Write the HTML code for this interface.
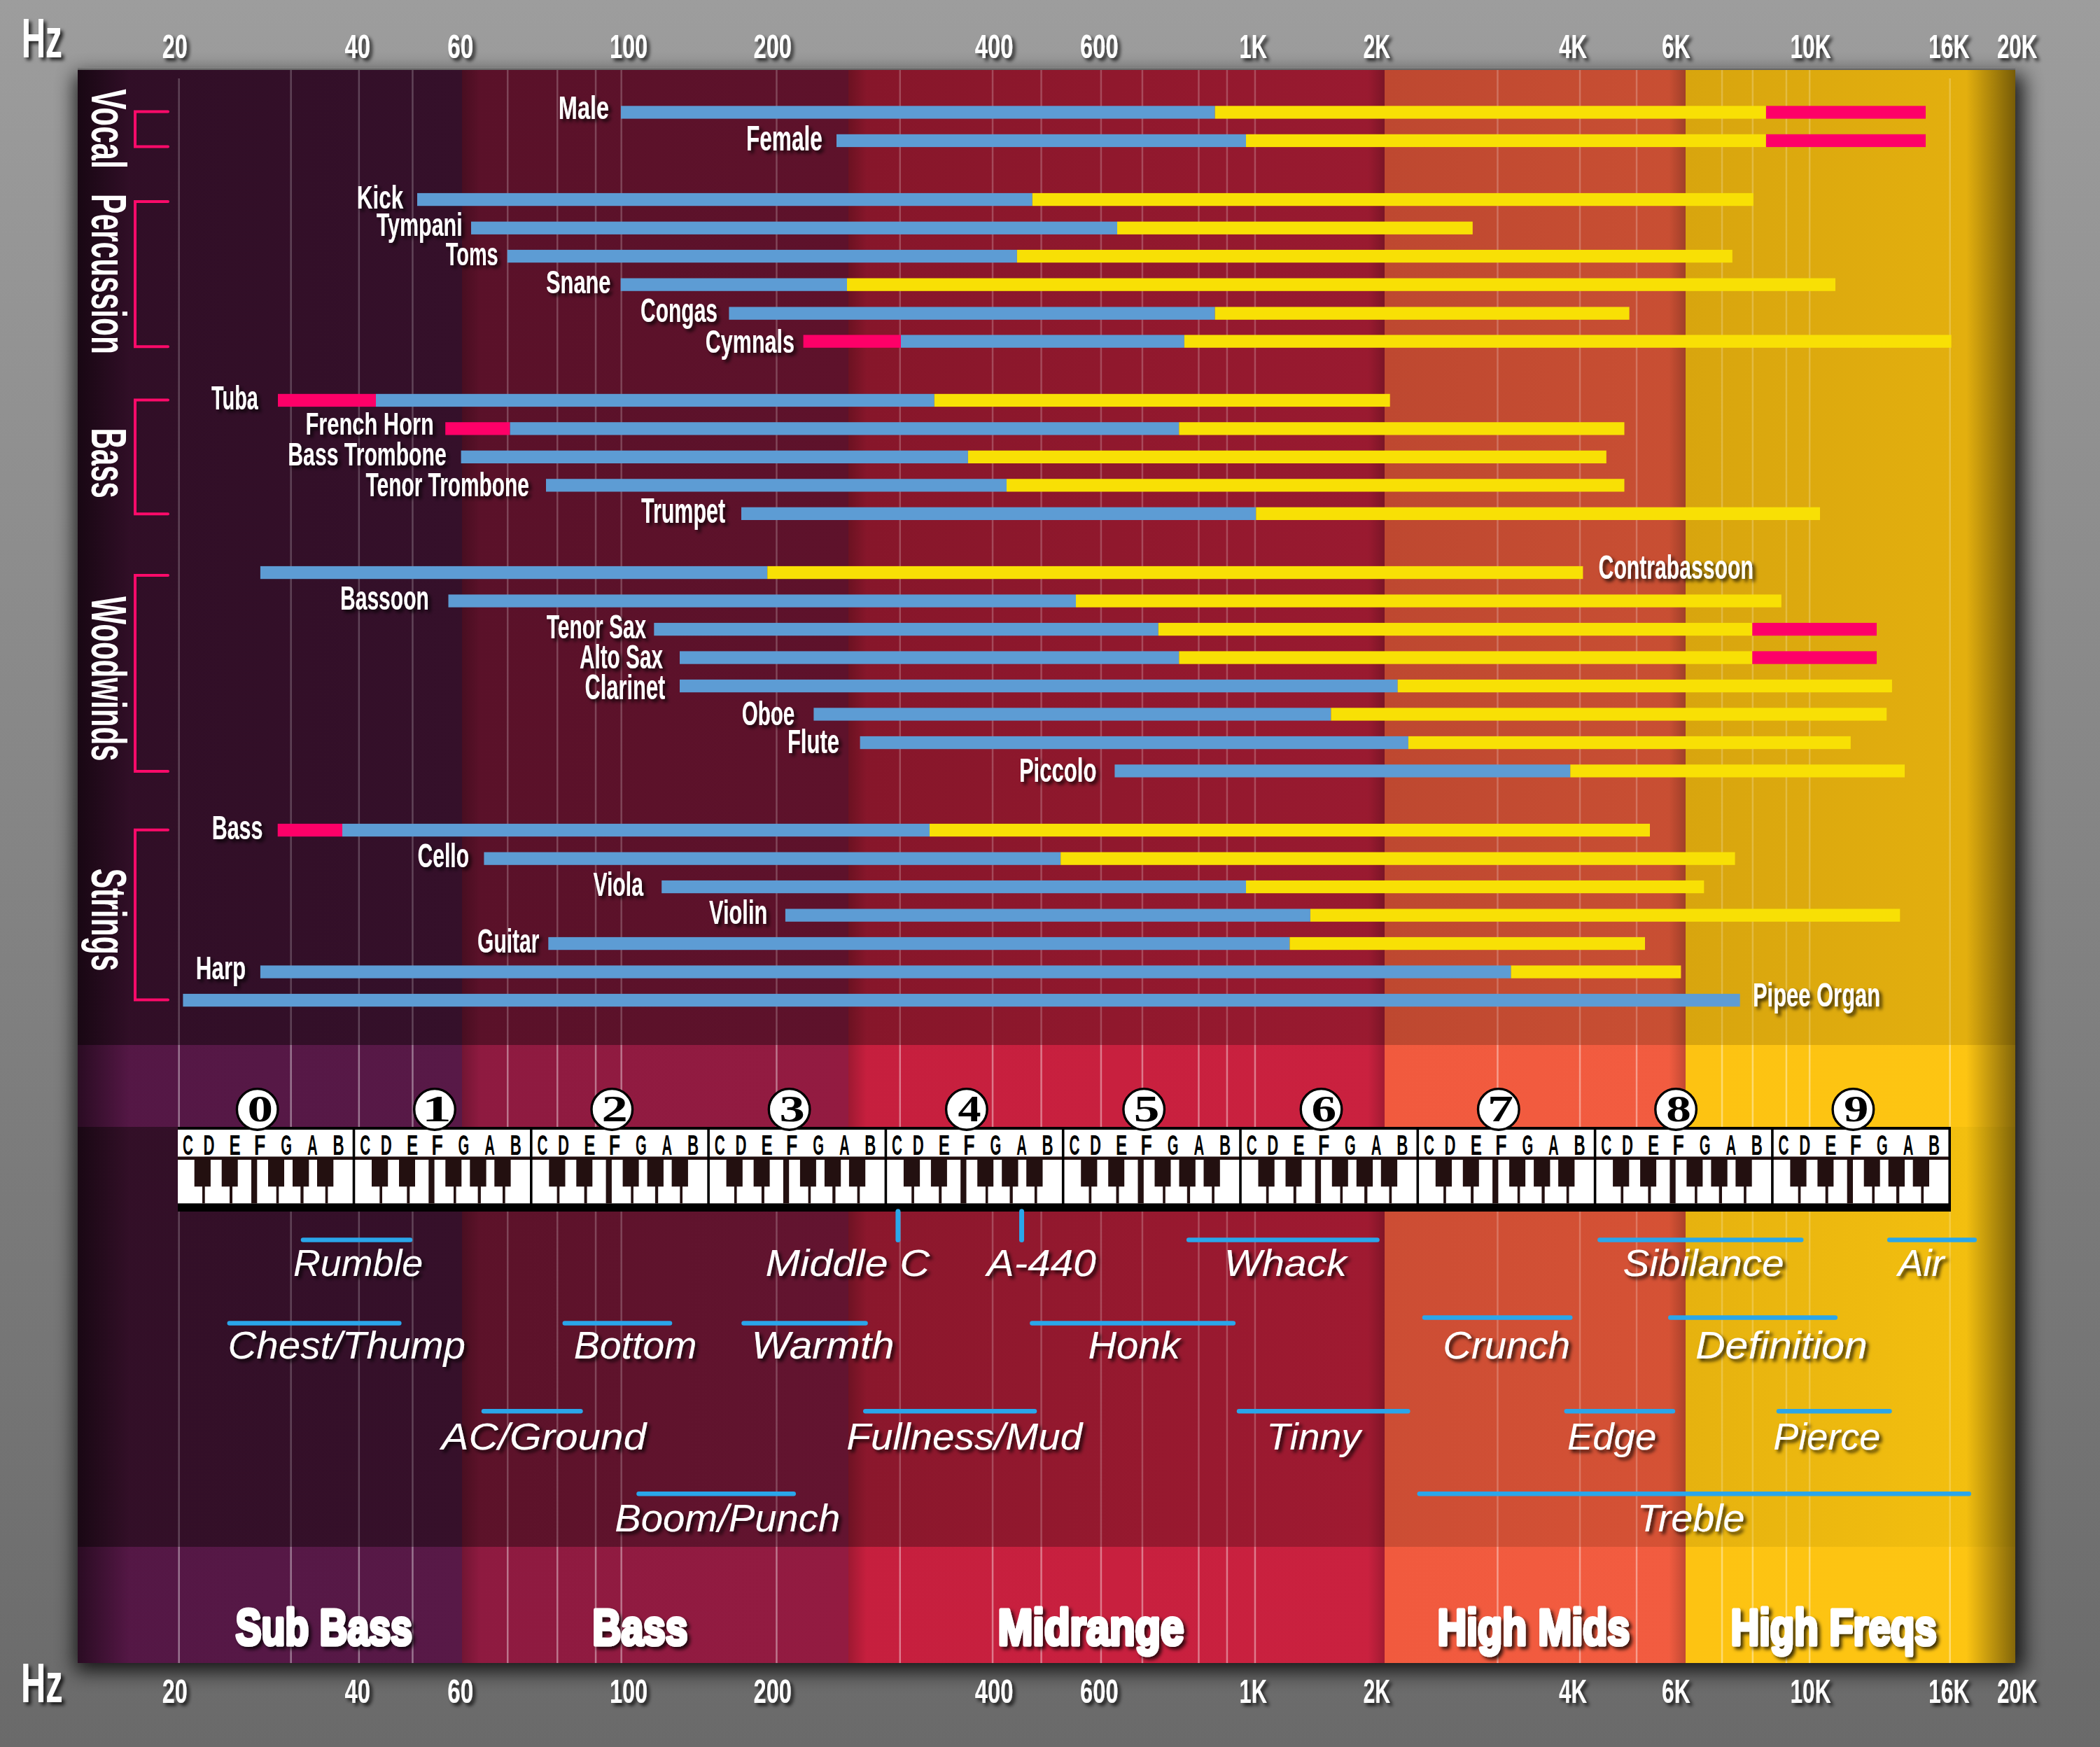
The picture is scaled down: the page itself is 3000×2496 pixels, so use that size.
<!DOCTYPE html><html><head><meta charset="utf-8"><style>html,body{margin:0;padding:0;background:#888;}svg{display:block}</style></head><body>
<svg width="3000" height="2496" viewBox="0 0 3000 2496">
<defs>
<linearGradient id="bg" x1="0" y1="0" x2="0" y2="1"><stop offset="0" stop-color="#9d9d9d"/><stop offset="1" stop-color="#6a6a6a"/></linearGradient>
<filter id="ts" x="-10%" y="-30%" width="130%" height="170%"><feGaussianBlur in="SourceAlpha" stdDeviation="2.4"/><feOffset dx="3.5" dy="3.5" result="b"/><feFlood flood-color="#000" flood-opacity="0.75"/><feComposite in2="b" operator="in"/><feMerge><feMergeNode/><feMergeNode in="SourceGraphic"/></feMerge></filter>
<filter id="ps" x="-5%" y="-5%" width="110%" height="110%"><feGaussianBlur stdDeviation="14"/></filter>
<linearGradient id="lg" x1="0" y1="0" x2="1" y2="0"><stop offset="0" stop-color="#000" stop-opacity="0.5"/><stop offset="1" stop-color="#000" stop-opacity="0"/></linearGradient>
<linearGradient id="rg" x1="0" y1="0" x2="1" y2="0"><stop offset="0" stop-color="#000" stop-opacity="0"/><stop offset="1" stop-color="#000" stop-opacity="0.48"/></linearGradient>
<linearGradient id="bsh" x1="0" y1="0" x2="1" y2="0"><stop offset="0" stop-color="#000" stop-opacity="0.2"/><stop offset="1" stop-color="#000" stop-opacity="0"/></linearGradient>
<linearGradient id="bshl" x1="0" y1="0" x2="1" y2="0"><stop offset="0" stop-color="#000" stop-opacity="0"/><stop offset="1" stop-color="#000" stop-opacity="0.2"/></linearGradient>
<filter id="ts2" x="-10%" y="-30%" width="130%" height="170%"><feGaussianBlur in="SourceAlpha" stdDeviation="2.4"/><feOffset dx="3.5" dy="-3.5" result="b"/><feFlood flood-color="#000" flood-opacity="0.75"/><feComposite in2="b" operator="in"/><feMerge><feMergeNode/><feMergeNode in="SourceGraphic"/></feMerge></filter></defs>
<rect x="0" y="0" width="3000" height="2496" fill="url(#bg)"/>
<rect x="107" y="106" width="2784" height="2282" fill="#000" opacity="0.8" filter="url(#ps)"/>
<linearGradient id="tstrip" x1="0" y1="0" x2="0" y2="1"><stop offset="0" stop-color="#8a8a8a"/><stop offset="1" stop-color="#555"/></linearGradient>
<rect x="111" y="96" width="2768" height="4.5" fill="url(#tstrip)"/>
<linearGradient id="g1" x1="0" y1="0" x2="1" y2="0"><stop offset="0" stop-color="#300e26"/><stop offset="1" stop-color="#35102a"/></linearGradient>
<rect x="111" y="100" width="549" height="1393" fill="url(#g1)"/>
<linearGradient id="g2" x1="0" y1="0" x2="1" y2="0"><stop offset="0" stop-color="#5a1129"/><stop offset="1" stop-color="#5e122b"/></linearGradient>
<rect x="660" y="100" width="552" height="1393" fill="url(#g2)"/>
<linearGradient id="g3" x1="0" y1="0" x2="1" y2="0"><stop offset="0" stop-color="#86162a"/><stop offset="1" stop-color="#9a1a30"/></linearGradient>
<rect x="1212" y="100" width="766" height="1393" fill="url(#g3)"/>
<linearGradient id="g4" x1="0" y1="0" x2="1" y2="0"><stop offset="0" stop-color="#be4830"/><stop offset="1" stop-color="#c94f33"/></linearGradient>
<rect x="1978" y="100" width="430" height="1393" fill="url(#g4)"/>
<linearGradient id="g5" x1="0" y1="0" x2="1" y2="0"><stop offset="0" stop-color="#d8a50e"/><stop offset="1" stop-color="#e5b10e"/></linearGradient>
<rect x="2408" y="100" width="471" height="1393" fill="url(#g5)"/>
<linearGradient id="g6" x1="0" y1="0" x2="1" y2="0"><stop offset="0" stop-color="#541745"/><stop offset="1" stop-color="#581947"/></linearGradient>
<rect x="111" y="1493" width="549" height="117" fill="url(#g6)"/>
<linearGradient id="g7" x1="0" y1="0" x2="1" y2="0"><stop offset="0" stop-color="#8e1a40"/><stop offset="1" stop-color="#931b41"/></linearGradient>
<rect x="660" y="1493" width="552" height="117" fill="url(#g7)"/>
<linearGradient id="g8" x1="0" y1="0" x2="1" y2="0"><stop offset="0" stop-color="#c61f3e"/><stop offset="1" stop-color="#ca213f"/></linearGradient>
<rect x="1212" y="1493" width="766" height="117" fill="url(#g8)"/>
<linearGradient id="g9" x1="0" y1="0" x2="1" y2="0"><stop offset="0" stop-color="#f15a3e"/><stop offset="1" stop-color="#f25c40"/></linearGradient>
<rect x="1978" y="1493" width="430" height="117" fill="url(#g9)"/>
<linearGradient id="g10" x1="0" y1="0" x2="1" y2="0"><stop offset="0" stop-color="#fdc312"/><stop offset="1" stop-color="#fdc512"/></linearGradient>
<rect x="2408" y="1493" width="471" height="117" fill="url(#g10)"/>
<linearGradient id="g11" x1="0" y1="0" x2="1" y2="0"><stop offset="0" stop-color="#320f27"/><stop offset="1" stop-color="#36102a"/></linearGradient>
<rect x="111" y="1610" width="549" height="600" fill="url(#g11)"/>
<linearGradient id="g12" x1="0" y1="0" x2="1" y2="0"><stop offset="0" stop-color="#5c1229"/><stop offset="1" stop-color="#631430"/></linearGradient>
<rect x="660" y="1610" width="552" height="600" fill="url(#g12)"/>
<linearGradient id="g13" x1="0" y1="0" x2="1" y2="0"><stop offset="0" stop-color="#8a172c"/><stop offset="1" stop-color="#a01a31"/></linearGradient>
<rect x="1212" y="1610" width="766" height="600" fill="url(#g13)"/>
<linearGradient id="g14" x1="0" y1="0" x2="1" y2="0"><stop offset="0" stop-color="#cc4d34"/><stop offset="1" stop-color="#d65235"/></linearGradient>
<rect x="1978" y="1610" width="430" height="600" fill="url(#g14)"/>
<linearGradient id="g15" x1="0" y1="0" x2="1" y2="0"><stop offset="0" stop-color="#e6b20f"/><stop offset="1" stop-color="#f5c10f"/></linearGradient>
<rect x="2408" y="1610" width="471" height="600" fill="url(#g15)"/>
<linearGradient id="g16" x1="0" y1="0" x2="1" y2="0"><stop offset="0" stop-color="#541745"/><stop offset="1" stop-color="#581947"/></linearGradient>
<rect x="111" y="2210" width="549" height="166" fill="url(#g16)"/>
<linearGradient id="g17" x1="0" y1="0" x2="1" y2="0"><stop offset="0" stop-color="#8e1a40"/><stop offset="1" stop-color="#931b41"/></linearGradient>
<rect x="660" y="2210" width="552" height="166" fill="url(#g17)"/>
<linearGradient id="g18" x1="0" y1="0" x2="1" y2="0"><stop offset="0" stop-color="#c61f3e"/><stop offset="1" stop-color="#ca213f"/></linearGradient>
<rect x="1212" y="2210" width="766" height="166" fill="url(#g18)"/>
<linearGradient id="g19" x1="0" y1="0" x2="1" y2="0"><stop offset="0" stop-color="#f15a3e"/><stop offset="1" stop-color="#f25c40"/></linearGradient>
<rect x="1978" y="2210" width="430" height="166" fill="url(#g19)"/>
<linearGradient id="g20" x1="0" y1="0" x2="1" y2="0"><stop offset="0" stop-color="#fdc312"/><stop offset="1" stop-color="#fdc512"/></linearGradient>
<rect x="2408" y="2210" width="471" height="166" fill="url(#g20)"/>
<rect x="660" y="100" width="26" height="2276" fill="url(#bsh)"/>
<rect x="1212" y="100" width="26" height="2276" fill="url(#bsh)"/>
<rect x="1954" y="100" width="24" height="2276" fill="url(#bshl)"/>
<rect x="2384" y="100" width="24" height="2276" fill="url(#bshl)"/>
<rect x="111" y="100" width="75" height="2276" fill="url(#lg)"/>
<rect x="2809" y="100" width="70" height="2276" fill="url(#rg)"/>
<rect x="414.4" y="100" width="2.5" height="1393" fill="#fff" opacity="0.22"/>
<rect x="511.6" y="100" width="2.5" height="1393" fill="#fff" opacity="0.22"/>
<rect x="588.2" y="100" width="2.5" height="1393" fill="#fff" opacity="0.22"/>
<rect x="724.0" y="100" width="2.5" height="1393" fill="#fff" opacity="0.22"/>
<rect x="795.0" y="100" width="2.5" height="1393" fill="#fff" opacity="0.22"/>
<rect x="849.8" y="100" width="2.5" height="1393" fill="#fff" opacity="0.22"/>
<rect x="886.4" y="100" width="2.5" height="1393" fill="#fff" opacity="0.22"/>
<rect x="1108.2" y="100" width="2.5" height="1393" fill="#fff" opacity="0.22"/>
<rect x="1284.5" y="100" width="2.5" height="1393" fill="#fff" opacity="0.22"/>
<rect x="1416.8" y="100" width="2.5" height="1393" fill="#fff" opacity="0.22"/>
<rect x="1486.3" y="100" width="2.5" height="1393" fill="#fff" opacity="0.22"/>
<rect x="1571.7" y="100" width="2.5" height="1393" fill="#fff" opacity="0.22"/>
<rect x="1630.7" y="100" width="2.5" height="1393" fill="#fff" opacity="0.22"/>
<rect x="1711.2" y="100" width="2.5" height="1393" fill="#fff" opacity="0.22"/>
<rect x="1751.7" y="100" width="2.5" height="1393" fill="#fff" opacity="0.22"/>
<rect x="1791.7" y="100" width="2.5" height="1393" fill="#fff" opacity="0.22"/>
<rect x="2138.2" y="100" width="2.5" height="1393" fill="#fff" opacity="0.22"/>
<rect x="2255.8" y="100" width="2.5" height="1393" fill="#fff" opacity="0.22"/>
<rect x="2336.8" y="100" width="2.5" height="1393" fill="#fff" opacity="0.22"/>
<rect x="2458.8" y="100" width="2.5" height="1393" fill="#fff" opacity="0.22"/>
<rect x="2502.6" y="100" width="2.5" height="1393" fill="#fff" opacity="0.22"/>
<rect x="2550.7" y="100" width="2.5" height="1393" fill="#fff" opacity="0.22"/>
<rect x="2583.9" y="100" width="2.5" height="1393" fill="#fff" opacity="0.22"/>
<rect x="254.4" y="112" width="2.5" height="1381" fill="#fff" opacity="0.22"/>
<rect x="2784.4" y="112" width="2.5" height="1381" fill="#fff" opacity="0.22"/>
<rect x="414.4" y="1493" width="2.5" height="117" fill="#fff" opacity="0.4"/>
<rect x="511.6" y="1493" width="2.5" height="117" fill="#fff" opacity="0.4"/>
<rect x="588.2" y="1493" width="2.5" height="117" fill="#fff" opacity="0.4"/>
<rect x="724.0" y="1493" width="2.5" height="117" fill="#fff" opacity="0.4"/>
<rect x="795.0" y="1493" width="2.5" height="117" fill="#fff" opacity="0.4"/>
<rect x="849.8" y="1493" width="2.5" height="117" fill="#fff" opacity="0.4"/>
<rect x="886.4" y="1493" width="2.5" height="117" fill="#fff" opacity="0.4"/>
<rect x="1108.2" y="1493" width="2.5" height="117" fill="#fff" opacity="0.4"/>
<rect x="1284.5" y="1493" width="2.5" height="117" fill="#fff" opacity="0.4"/>
<rect x="1416.8" y="1493" width="2.5" height="117" fill="#fff" opacity="0.4"/>
<rect x="1486.3" y="1493" width="2.5" height="117" fill="#fff" opacity="0.4"/>
<rect x="1571.7" y="1493" width="2.5" height="117" fill="#fff" opacity="0.4"/>
<rect x="1630.7" y="1493" width="2.5" height="117" fill="#fff" opacity="0.4"/>
<rect x="1711.2" y="1493" width="2.5" height="117" fill="#fff" opacity="0.4"/>
<rect x="1751.7" y="1493" width="2.5" height="117" fill="#fff" opacity="0.4"/>
<rect x="1791.7" y="1493" width="2.5" height="117" fill="#fff" opacity="0.4"/>
<rect x="2138.2" y="1493" width="2.5" height="117" fill="#fff" opacity="0.4"/>
<rect x="2255.8" y="1493" width="2.5" height="117" fill="#fff" opacity="0.4"/>
<rect x="2336.8" y="1493" width="2.5" height="117" fill="#fff" opacity="0.4"/>
<rect x="2458.8" y="1493" width="2.5" height="117" fill="#fff" opacity="0.4"/>
<rect x="2502.6" y="1493" width="2.5" height="117" fill="#fff" opacity="0.4"/>
<rect x="2550.7" y="1493" width="2.5" height="117" fill="#fff" opacity="0.4"/>
<rect x="2583.9" y="1493" width="2.5" height="117" fill="#fff" opacity="0.4"/>
<rect x="254.4" y="1493" width="2.5" height="117" fill="#fff" opacity="0.4"/>
<rect x="2784.4" y="1493" width="2.5" height="117" fill="#fff" opacity="0.4"/>
<rect x="414.4" y="1610" width="2.5" height="600" fill="#fff" opacity="0.22"/>
<rect x="511.6" y="1610" width="2.5" height="600" fill="#fff" opacity="0.22"/>
<rect x="588.2" y="1610" width="2.5" height="600" fill="#fff" opacity="0.22"/>
<rect x="724.0" y="1610" width="2.5" height="600" fill="#fff" opacity="0.22"/>
<rect x="795.0" y="1610" width="2.5" height="600" fill="#fff" opacity="0.22"/>
<rect x="849.8" y="1610" width="2.5" height="600" fill="#fff" opacity="0.22"/>
<rect x="886.4" y="1610" width="2.5" height="600" fill="#fff" opacity="0.22"/>
<rect x="1108.2" y="1610" width="2.5" height="600" fill="#fff" opacity="0.22"/>
<rect x="1284.5" y="1610" width="2.5" height="600" fill="#fff" opacity="0.22"/>
<rect x="1416.8" y="1610" width="2.5" height="600" fill="#fff" opacity="0.22"/>
<rect x="1486.3" y="1610" width="2.5" height="600" fill="#fff" opacity="0.22"/>
<rect x="1571.7" y="1610" width="2.5" height="600" fill="#fff" opacity="0.22"/>
<rect x="1630.7" y="1610" width="2.5" height="600" fill="#fff" opacity="0.22"/>
<rect x="1711.2" y="1610" width="2.5" height="600" fill="#fff" opacity="0.22"/>
<rect x="1751.7" y="1610" width="2.5" height="600" fill="#fff" opacity="0.22"/>
<rect x="1791.7" y="1610" width="2.5" height="600" fill="#fff" opacity="0.22"/>
<rect x="2138.2" y="1610" width="2.5" height="600" fill="#fff" opacity="0.22"/>
<rect x="2255.8" y="1610" width="2.5" height="600" fill="#fff" opacity="0.22"/>
<rect x="2336.8" y="1610" width="2.5" height="600" fill="#fff" opacity="0.22"/>
<rect x="2458.8" y="1610" width="2.5" height="600" fill="#fff" opacity="0.22"/>
<rect x="2502.6" y="1610" width="2.5" height="600" fill="#fff" opacity="0.22"/>
<rect x="2550.7" y="1610" width="2.5" height="600" fill="#fff" opacity="0.22"/>
<rect x="2583.9" y="1610" width="2.5" height="600" fill="#fff" opacity="0.22"/>
<rect x="254.4" y="1610" width="2.5" height="600" fill="#fff" opacity="0.22"/>
<rect x="2784.4" y="1610" width="2.5" height="600" fill="#fff" opacity="0.22"/>
<rect x="414.4" y="2210" width="2.5" height="166" fill="#fff" opacity="0.4"/>
<rect x="511.6" y="2210" width="2.5" height="166" fill="#fff" opacity="0.4"/>
<rect x="588.2" y="2210" width="2.5" height="166" fill="#fff" opacity="0.4"/>
<rect x="724.0" y="2210" width="2.5" height="166" fill="#fff" opacity="0.4"/>
<rect x="795.0" y="2210" width="2.5" height="166" fill="#fff" opacity="0.4"/>
<rect x="849.8" y="2210" width="2.5" height="166" fill="#fff" opacity="0.4"/>
<rect x="886.4" y="2210" width="2.5" height="166" fill="#fff" opacity="0.4"/>
<rect x="1108.2" y="2210" width="2.5" height="166" fill="#fff" opacity="0.4"/>
<rect x="1284.5" y="2210" width="2.5" height="166" fill="#fff" opacity="0.4"/>
<rect x="1416.8" y="2210" width="2.5" height="166" fill="#fff" opacity="0.4"/>
<rect x="1486.3" y="2210" width="2.5" height="166" fill="#fff" opacity="0.4"/>
<rect x="1571.7" y="2210" width="2.5" height="166" fill="#fff" opacity="0.4"/>
<rect x="1630.7" y="2210" width="2.5" height="166" fill="#fff" opacity="0.4"/>
<rect x="1711.2" y="2210" width="2.5" height="166" fill="#fff" opacity="0.4"/>
<rect x="1751.7" y="2210" width="2.5" height="166" fill="#fff" opacity="0.4"/>
<rect x="1791.7" y="2210" width="2.5" height="166" fill="#fff" opacity="0.4"/>
<rect x="2138.2" y="2210" width="2.5" height="166" fill="#fff" opacity="0.4"/>
<rect x="2255.8" y="2210" width="2.5" height="166" fill="#fff" opacity="0.4"/>
<rect x="2336.8" y="2210" width="2.5" height="166" fill="#fff" opacity="0.4"/>
<rect x="2458.8" y="2210" width="2.5" height="166" fill="#fff" opacity="0.4"/>
<rect x="2502.6" y="2210" width="2.5" height="166" fill="#fff" opacity="0.4"/>
<rect x="2550.7" y="2210" width="2.5" height="166" fill="#fff" opacity="0.4"/>
<rect x="2583.9" y="2210" width="2.5" height="166" fill="#fff" opacity="0.4"/>
<rect x="254.4" y="2210" width="2.5" height="166" fill="#fff" opacity="0.4"/>
<rect x="2784.4" y="2210" width="2.5" height="166" fill="#fff" opacity="0.4"/>
<path d="M240 159.5 H193 V209.5 H240" fill="none" stroke="#ff0a6a" stroke-width="4" stroke-linecap="round"/>
<path d="M240 288 H193 V495.2 H240" fill="none" stroke="#ff0a6a" stroke-width="4" stroke-linecap="round"/>
<path d="M240 571.4 H193 V734.3 H240" fill="none" stroke="#ff0a6a" stroke-width="4" stroke-linecap="round"/>
<path d="M240 822 H193 V1101.9 H240" fill="none" stroke="#ff0a6a" stroke-width="4" stroke-linecap="round"/>
<path d="M240 1185.7 H193 V1428.6 H240" fill="none" stroke="#ff0a6a" stroke-width="4" stroke-linecap="round"/>
<g transform="translate(131,0) rotate(90)"><text x="127.3" y="0.0" font-family="Liberation Sans" font-weight="bold" font-style="normal" font-size="70.55" textLength="113.9" lengthAdjust="spacingAndGlyphs" fill="#fff">Vocal</text></g>
<g transform="translate(131,0) rotate(90)"><text x="277.1" y="0.0" font-family="Liberation Sans" font-weight="bold" font-style="normal" font-size="70.55" textLength="228.8" lengthAdjust="spacingAndGlyphs" fill="#fff">Percussion</text></g>
<g transform="translate(131,0) rotate(90)"><text x="611.6" y="0.0" font-family="Liberation Sans" font-weight="bold" font-style="normal" font-size="70.55" textLength="100.1" lengthAdjust="spacingAndGlyphs" fill="#fff">Bass</text></g>
<g transform="translate(131,0) rotate(90)"><text x="852.3" y="0.0" font-family="Liberation Sans" font-weight="bold" font-style="normal" font-size="70.55" textLength="235.2" lengthAdjust="spacingAndGlyphs" fill="#fff">Woodwinds</text></g>
<g transform="translate(131,0) rotate(90)"><text x="1240.7" y="0.0" font-family="Liberation Sans" font-weight="bold" font-style="normal" font-size="70.55" textLength="146.7" lengthAdjust="spacingAndGlyphs" fill="#fff">Strings</text></g>
<rect x="887.0" y="151.3" width="848.7" height="18.3" fill="#5d9cd4"/><rect x="1735.7" y="151.3" width="787.2" height="18.3" fill="#f8e005"/><rect x="2522.9" y="151.3" width="228.1" height="18.3" fill="#fe0068"/>
<rect x="1195.0" y="191.8" width="585.0" height="18.3" fill="#5d9cd4"/><rect x="1780.0" y="191.8" width="742.9" height="18.3" fill="#f8e005"/><rect x="2522.9" y="191.8" width="228.1" height="18.3" fill="#fe0068"/>
<rect x="596.0" y="275.9" width="878.8" height="18.3" fill="#5d9cd4"/><rect x="1474.8" y="275.9" width="1030.0" height="18.3" fill="#f8e005"/>
<rect x="673.0" y="316.6" width="923.0" height="18.3" fill="#5d9cd4"/><rect x="1596.0" y="316.6" width="507.8" height="18.3" fill="#f8e005"/>
<rect x="724.8" y="356.9" width="728.1" height="18.3" fill="#5d9cd4"/><rect x="1452.9" y="356.9" width="1021.9" height="18.3" fill="#f8e005"/>
<rect x="886.7" y="397.5" width="323.3" height="18.3" fill="#5d9cd4"/><rect x="1210.0" y="397.5" width="1412.0" height="18.3" fill="#f8e005"/>
<rect x="1041.4" y="438.5" width="694.3" height="18.3" fill="#5d9cd4"/><rect x="1735.7" y="438.5" width="591.9" height="18.3" fill="#f8e005"/>
<rect x="1147.6" y="478.5" width="139.4" height="18.3" fill="#fe0068"/><rect x="1287.0" y="478.5" width="404.9" height="18.3" fill="#5d9cd4"/><rect x="1691.9" y="478.5" width="1095.7" height="18.3" fill="#f8e005"/>
<rect x="397.0" y="562.8" width="140.0" height="18.3" fill="#fe0068"/><rect x="537.0" y="562.8" width="797.8" height="18.3" fill="#5d9cd4"/><rect x="1334.8" y="562.8" width="650.9" height="18.3" fill="#f8e005"/>
<rect x="636.2" y="603.2" width="92.4" height="18.3" fill="#fe0068"/><rect x="728.6" y="603.2" width="955.7" height="18.3" fill="#5d9cd4"/><rect x="1684.3" y="603.2" width="636.2" height="18.3" fill="#f8e005"/>
<rect x="658.6" y="643.7" width="724.3" height="18.3" fill="#5d9cd4"/><rect x="1382.9" y="643.7" width="911.9" height="18.3" fill="#f8e005"/>
<rect x="780.0" y="684.2" width="658.0" height="18.3" fill="#5d9cd4"/><rect x="1438.0" y="684.2" width="882.5" height="18.3" fill="#f8e005"/>
<rect x="1059.0" y="724.7" width="735.3" height="18.3" fill="#5d9cd4"/><rect x="1794.3" y="724.7" width="805.7" height="18.3" fill="#f8e005"/>
<rect x="371.9" y="808.9" width="724.3" height="18.3" fill="#5d9cd4"/><rect x="1096.2" y="808.9" width="1165.2" height="18.3" fill="#f8e005"/>
<rect x="640.5" y="849.4" width="896.5" height="18.3" fill="#5d9cd4"/><rect x="1537.0" y="849.4" width="1007.8" height="18.3" fill="#f8e005"/>
<rect x="934.3" y="889.9" width="720.5" height="18.3" fill="#5d9cd4"/><rect x="1654.8" y="889.9" width="848.5" height="18.3" fill="#f8e005"/><rect x="2503.3" y="889.9" width="177.7" height="18.3" fill="#fe0068"/>
<rect x="971.0" y="930.4" width="713.3" height="18.3" fill="#5d9cd4"/><rect x="1684.3" y="930.4" width="819.0" height="18.3" fill="#f8e005"/><rect x="2503.3" y="930.4" width="177.7" height="18.3" fill="#fe0068"/>
<rect x="971.0" y="970.9" width="1025.7" height="18.3" fill="#5d9cd4"/><rect x="1996.7" y="970.9" width="706.2" height="18.3" fill="#f8e005"/>
<rect x="1162.4" y="1011.3" width="739.0" height="18.3" fill="#5d9cd4"/><rect x="1901.4" y="1011.3" width="793.8" height="18.3" fill="#f8e005"/>
<rect x="1228.6" y="1051.9" width="783.3" height="18.3" fill="#5d9cd4"/><rect x="2011.9" y="1051.9" width="631.9" height="18.3" fill="#f8e005"/>
<rect x="1592.4" y="1092.3" width="650.9" height="18.3" fill="#5d9cd4"/><rect x="2243.3" y="1092.3" width="477.7" height="18.3" fill="#f8e005"/>
<rect x="396.7" y="1176.9" width="92.3" height="18.3" fill="#fe0068"/><rect x="489.0" y="1176.9" width="839.0" height="18.3" fill="#5d9cd4"/><rect x="1328.0" y="1176.9" width="1029.0" height="18.3" fill="#f8e005"/>
<rect x="691.4" y="1217.5" width="823.8" height="18.3" fill="#5d9cd4"/><rect x="1515.2" y="1217.5" width="963.4" height="18.3" fill="#f8e005"/>
<rect x="945.2" y="1257.9" width="834.8" height="18.3" fill="#5d9cd4"/><rect x="1780.0" y="1257.9" width="654.3" height="18.3" fill="#f8e005"/>
<rect x="1121.9" y="1298.5" width="750.0" height="18.3" fill="#5d9cd4"/><rect x="1871.9" y="1298.5" width="842.4" height="18.3" fill="#f8e005"/>
<rect x="783.3" y="1338.9" width="1059.1" height="18.3" fill="#5d9cd4"/><rect x="1842.4" y="1338.9" width="507.6" height="18.3" fill="#f8e005"/>
<rect x="371.9" y="1379.4" width="1786.7" height="18.3" fill="#5d9cd4"/><rect x="2158.6" y="1379.4" width="242.8" height="18.3" fill="#f8e005"/>
<rect x="261.4" y="1419.9" width="2224.3" height="18.3" fill="#5d9cd4"/>
<text x="797.8" y="170.0" font-family="Liberation Sans" font-weight="bold" font-style="normal" font-size="46.55" textLength="72.3" lengthAdjust="spacingAndGlyphs" fill="#fff" filter="url(#ts)">Male</text>
<text x="1065.9" y="215.0" font-family="Liberation Sans" font-weight="bold" font-style="normal" font-size="49.45" textLength="109.0" lengthAdjust="spacingAndGlyphs" fill="#fff" filter="url(#ts)">Female</text>
<text x="509.8" y="297.6" font-family="Liberation Sans" font-weight="bold" font-style="normal" font-size="46.40" textLength="66.4" lengthAdjust="spacingAndGlyphs" fill="#fff" filter="url(#ts)">Kick</text>
<text x="537.7" y="337.1" font-family="Liberation Sans" font-weight="bold" font-style="normal" font-size="46.98" textLength="123.0" lengthAdjust="spacingAndGlyphs" fill="#fff" filter="url(#ts)">Tympani</text>
<text x="636.7" y="378.6" font-family="Liberation Sans" font-weight="bold" font-style="normal" font-size="47.13" textLength="75.0" lengthAdjust="spacingAndGlyphs" fill="#fff" filter="url(#ts)">Toms</text>
<text x="780.0" y="419.0" font-family="Liberation Sans" font-weight="bold" font-style="normal" font-size="46.55" textLength="92.5" lengthAdjust="spacingAndGlyphs" fill="#fff" filter="url(#ts)">Snane</text>
<text x="915.1" y="460.0" font-family="Liberation Sans" font-weight="bold" font-style="normal" font-size="48.00" textLength="109.9" lengthAdjust="spacingAndGlyphs" fill="#fff" filter="url(#ts)">Congas</text>
<text x="1007.8" y="503.7" font-family="Liberation Sans" font-weight="bold" font-style="normal" font-size="46.98" textLength="127.2" lengthAdjust="spacingAndGlyphs" fill="#fff" filter="url(#ts)">Cymnals</text>
<text x="302.1" y="584.5" font-family="Liberation Sans" font-weight="bold" font-style="normal" font-size="47.85" textLength="66.7" lengthAdjust="spacingAndGlyphs" fill="#fff" filter="url(#ts)">Tuba</text>
<text x="436.5" y="621.4" font-family="Liberation Sans" font-weight="bold" font-style="normal" font-size="44.95" textLength="183.3" lengthAdjust="spacingAndGlyphs" fill="#fff" filter="url(#ts)">French Horn</text>
<text x="411.3" y="665.2" font-family="Liberation Sans" font-weight="bold" font-style="normal" font-size="46.40" textLength="226.5" lengthAdjust="spacingAndGlyphs" fill="#fff" filter="url(#ts)">Bass Trombone</text>
<text x="522.6" y="708.6" font-family="Liberation Sans" font-weight="bold" font-style="normal" font-size="47.42" textLength="233.2" lengthAdjust="spacingAndGlyphs" fill="#fff" filter="url(#ts)">Tenor Trombone</text>
<text x="916.0" y="746.6" font-family="Liberation Sans" font-weight="bold" font-style="normal" font-size="49.02" textLength="120.1" lengthAdjust="spacingAndGlyphs" fill="#fff" filter="url(#ts)">Trumpet</text>
<text x="2283.6" y="827.0" font-family="Liberation Sans" font-weight="bold" font-style="normal" font-size="48.29" textLength="221.3" lengthAdjust="spacingAndGlyphs" fill="#fff" filter="url(#ts)">Contrabassoon</text>
<text x="486.0" y="871.4" font-family="Liberation Sans" font-weight="bold" font-style="normal" font-size="48.58" textLength="126.9" lengthAdjust="spacingAndGlyphs" fill="#fff" filter="url(#ts)">Bassoon</text>
<text x="780.7" y="912.0" font-family="Liberation Sans" font-weight="bold" font-style="normal" font-size="48.58" textLength="142.5" lengthAdjust="spacingAndGlyphs" fill="#fff" filter="url(#ts)">Tenor Sax</text>
<text x="827.9" y="954.8" font-family="Liberation Sans" font-weight="bold" font-style="normal" font-size="48.58" textLength="119.1" lengthAdjust="spacingAndGlyphs" fill="#fff" filter="url(#ts)">Alto Sax</text>
<text x="835.5" y="998.6" font-family="Liberation Sans" font-weight="bold" font-style="normal" font-size="49.89" textLength="114.9" lengthAdjust="spacingAndGlyphs" fill="#fff" filter="url(#ts)">Clarinet</text>
<text x="1059.8" y="1035.7" font-family="Liberation Sans" font-weight="bold" font-style="normal" font-size="48.44" textLength="75.5" lengthAdjust="spacingAndGlyphs" fill="#fff" filter="url(#ts)">Oboe</text>
<text x="1124.9" y="1076.0" font-family="Liberation Sans" font-weight="bold" font-style="normal" font-size="48.15" textLength="74.1" lengthAdjust="spacingAndGlyphs" fill="#fff" filter="url(#ts)">Flute</text>
<text x="1455.9" y="1116.7" font-family="Liberation Sans" font-weight="bold" font-style="normal" font-size="48.58" textLength="110.5" lengthAdjust="spacingAndGlyphs" fill="#fff" filter="url(#ts)">Piccolo</text>
<text x="302.7" y="1199.0" font-family="Liberation Sans" font-weight="bold" font-style="normal" font-size="48.44" textLength="72.8" lengthAdjust="spacingAndGlyphs" fill="#fff" filter="url(#ts)">Bass</text>
<text x="596.4" y="1239.0" font-family="Liberation Sans" font-weight="bold" font-style="normal" font-size="48.44" textLength="73.7" lengthAdjust="spacingAndGlyphs" fill="#fff" filter="url(#ts)">Cello</text>
<text x="847.4" y="1279.5" font-family="Liberation Sans" font-weight="bold" font-style="normal" font-size="48.44" textLength="71.5" lengthAdjust="spacingAndGlyphs" fill="#fff" filter="url(#ts)">Viola</text>
<text x="1013.1" y="1320.0" font-family="Liberation Sans" font-weight="bold" font-style="normal" font-size="48.44" textLength="83.1" lengthAdjust="spacingAndGlyphs" fill="#fff" filter="url(#ts)">Violin</text>
<text x="682.1" y="1360.5" font-family="Liberation Sans" font-weight="bold" font-style="normal" font-size="48.73" textLength="88.3" lengthAdjust="spacingAndGlyphs" fill="#fff" filter="url(#ts)">Guitar</text>
<text x="279.8" y="1398.6" font-family="Liberation Sans" font-weight="bold" font-style="normal" font-size="46.40" textLength="71.5" lengthAdjust="spacingAndGlyphs" fill="#fff" filter="url(#ts)">Harp</text>
<text x="2503.9" y="1438.0" font-family="Liberation Sans" font-weight="bold" font-style="normal" font-size="48.29" textLength="182.3" lengthAdjust="spacingAndGlyphs" fill="#fff" filter="url(#ts)">Pipee Organ</text>
<rect x="254" y="1610" width="2533.0" height="121" fill="#000"/>
<rect x="254.0" y="1614" width="249.7" height="38.7" fill="#fff"/>
<rect x="254.0" y="1652.7" width="249.7" height="4.3" fill="#220f0f"/>
<rect x="254.0" y="1657" width="249.7" height="62.3" fill="#fff"/>
<rect x="277.7" y="1657" width="23.2" height="38.3" fill="#231010"/>
<rect x="316.7" y="1657" width="23.0" height="38.3" fill="#231010"/>
<rect x="383.0" y="1657" width="23.0" height="38.3" fill="#231010"/>
<rect x="418.0" y="1657" width="23.3" height="38.3" fill="#231010"/>
<rect x="453.0" y="1657" width="23.3" height="38.3" fill="#231010"/>
<rect x="289.0" y="1695" width="3.7" height="24.3" fill="#231010"/>
<rect x="328.0" y="1695" width="4.0" height="24.3" fill="#231010"/>
<rect x="394.7" y="1695" width="3.6" height="24.3" fill="#231010"/>
<rect x="429.3" y="1695" width="4.3" height="24.3" fill="#231010"/>
<rect x="464.7" y="1695" width="3.7" height="24.3" fill="#231010"/>
<rect x="359.0" y="1657" width="8.3" height="62.3" fill="#231010"/>
<text x="260.9" y="1649.6" font-family="Liberation Sans" font-weight="bold" font-style="normal" font-size="40.15" textLength="15.0" lengthAdjust="spacingAndGlyphs" fill="#000">C</text>
<text x="290.5" y="1649.6" font-family="Liberation Sans" font-weight="bold" font-style="normal" font-size="40.15" textLength="16.0" lengthAdjust="spacingAndGlyphs" fill="#000">D</text>
<text x="327.6" y="1649.6" font-family="Liberation Sans" font-weight="bold" font-style="normal" font-size="40.15" textLength="16.2" lengthAdjust="spacingAndGlyphs" fill="#000">E</text>
<text x="363.1" y="1649.6" font-family="Liberation Sans" font-weight="bold" font-style="normal" font-size="40.15" textLength="16.4" lengthAdjust="spacingAndGlyphs" fill="#000">F</text>
<text x="401.3" y="1649.6" font-family="Liberation Sans" font-weight="bold" font-style="normal" font-size="40.15" textLength="15.7" lengthAdjust="spacingAndGlyphs" fill="#000">G</text>
<text x="439.0" y="1649.6" font-family="Liberation Sans" font-weight="bold" font-style="normal" font-size="40.15" textLength="14.7" lengthAdjust="spacingAndGlyphs" fill="#000">A</text>
<text x="475.4" y="1649.6" font-family="Liberation Sans" font-weight="bold" font-style="normal" font-size="40.15" textLength="16.1" lengthAdjust="spacingAndGlyphs" fill="#000">B</text>
<rect x="507.3" y="1614" width="249.7" height="38.7" fill="#fff"/>
<rect x="507.3" y="1652.7" width="249.7" height="4.3" fill="#220f0f"/>
<rect x="507.3" y="1657" width="249.7" height="62.3" fill="#fff"/>
<rect x="531.0" y="1657" width="23.2" height="38.3" fill="#231010"/>
<rect x="570.0" y="1657" width="23.0" height="38.3" fill="#231010"/>
<rect x="636.3" y="1657" width="23.0" height="38.3" fill="#231010"/>
<rect x="671.3" y="1657" width="23.3" height="38.3" fill="#231010"/>
<rect x="706.3" y="1657" width="23.3" height="38.3" fill="#231010"/>
<rect x="542.3" y="1695" width="3.7" height="24.3" fill="#231010"/>
<rect x="581.3" y="1695" width="4.0" height="24.3" fill="#231010"/>
<rect x="648.0" y="1695" width="3.6" height="24.3" fill="#231010"/>
<rect x="682.6" y="1695" width="4.3" height="24.3" fill="#231010"/>
<rect x="718.0" y="1695" width="3.7" height="24.3" fill="#231010"/>
<rect x="612.3" y="1657" width="8.3" height="62.3" fill="#231010"/>
<text x="514.2" y="1649.6" font-family="Liberation Sans" font-weight="bold" font-style="normal" font-size="40.15" textLength="15.0" lengthAdjust="spacingAndGlyphs" fill="#000">C</text>
<text x="543.8" y="1649.6" font-family="Liberation Sans" font-weight="bold" font-style="normal" font-size="40.15" textLength="16.0" lengthAdjust="spacingAndGlyphs" fill="#000">D</text>
<text x="580.9" y="1649.6" font-family="Liberation Sans" font-weight="bold" font-style="normal" font-size="40.15" textLength="16.2" lengthAdjust="spacingAndGlyphs" fill="#000">E</text>
<text x="616.4" y="1649.6" font-family="Liberation Sans" font-weight="bold" font-style="normal" font-size="40.15" textLength="16.4" lengthAdjust="spacingAndGlyphs" fill="#000">F</text>
<text x="654.6" y="1649.6" font-family="Liberation Sans" font-weight="bold" font-style="normal" font-size="40.15" textLength="15.7" lengthAdjust="spacingAndGlyphs" fill="#000">G</text>
<text x="692.3" y="1649.6" font-family="Liberation Sans" font-weight="bold" font-style="normal" font-size="40.15" textLength="14.7" lengthAdjust="spacingAndGlyphs" fill="#000">A</text>
<text x="728.7" y="1649.6" font-family="Liberation Sans" font-weight="bold" font-style="normal" font-size="40.15" textLength="16.1" lengthAdjust="spacingAndGlyphs" fill="#000">B</text>
<rect x="760.6" y="1614" width="249.7" height="38.7" fill="#fff"/>
<rect x="760.6" y="1652.7" width="249.7" height="4.3" fill="#220f0f"/>
<rect x="760.6" y="1657" width="249.7" height="62.3" fill="#fff"/>
<rect x="784.3" y="1657" width="23.2" height="38.3" fill="#231010"/>
<rect x="823.3" y="1657" width="23.0" height="38.3" fill="#231010"/>
<rect x="889.6" y="1657" width="23.0" height="38.3" fill="#231010"/>
<rect x="924.6" y="1657" width="23.3" height="38.3" fill="#231010"/>
<rect x="959.6" y="1657" width="23.3" height="38.3" fill="#231010"/>
<rect x="795.6" y="1695" width="3.7" height="24.3" fill="#231010"/>
<rect x="834.6" y="1695" width="4.0" height="24.3" fill="#231010"/>
<rect x="901.3" y="1695" width="3.6" height="24.3" fill="#231010"/>
<rect x="935.9" y="1695" width="4.3" height="24.3" fill="#231010"/>
<rect x="971.3" y="1695" width="3.7" height="24.3" fill="#231010"/>
<rect x="865.6" y="1657" width="8.3" height="62.3" fill="#231010"/>
<text x="767.5" y="1649.6" font-family="Liberation Sans" font-weight="bold" font-style="normal" font-size="40.15" textLength="15.0" lengthAdjust="spacingAndGlyphs" fill="#000">C</text>
<text x="797.1" y="1649.6" font-family="Liberation Sans" font-weight="bold" font-style="normal" font-size="40.15" textLength="16.0" lengthAdjust="spacingAndGlyphs" fill="#000">D</text>
<text x="834.2" y="1649.6" font-family="Liberation Sans" font-weight="bold" font-style="normal" font-size="40.15" textLength="16.2" lengthAdjust="spacingAndGlyphs" fill="#000">E</text>
<text x="869.7" y="1649.6" font-family="Liberation Sans" font-weight="bold" font-style="normal" font-size="40.15" textLength="16.4" lengthAdjust="spacingAndGlyphs" fill="#000">F</text>
<text x="907.9" y="1649.6" font-family="Liberation Sans" font-weight="bold" font-style="normal" font-size="40.15" textLength="15.7" lengthAdjust="spacingAndGlyphs" fill="#000">G</text>
<text x="945.6" y="1649.6" font-family="Liberation Sans" font-weight="bold" font-style="normal" font-size="40.15" textLength="14.7" lengthAdjust="spacingAndGlyphs" fill="#000">A</text>
<text x="982.0" y="1649.6" font-family="Liberation Sans" font-weight="bold" font-style="normal" font-size="40.15" textLength="16.1" lengthAdjust="spacingAndGlyphs" fill="#000">B</text>
<rect x="1013.9" y="1614" width="249.7" height="38.7" fill="#fff"/>
<rect x="1013.9" y="1652.7" width="249.7" height="4.3" fill="#220f0f"/>
<rect x="1013.9" y="1657" width="249.7" height="62.3" fill="#fff"/>
<rect x="1037.6" y="1657" width="23.2" height="38.3" fill="#231010"/>
<rect x="1076.6" y="1657" width="23.0" height="38.3" fill="#231010"/>
<rect x="1142.9" y="1657" width="23.0" height="38.3" fill="#231010"/>
<rect x="1177.9" y="1657" width="23.3" height="38.3" fill="#231010"/>
<rect x="1212.9" y="1657" width="23.3" height="38.3" fill="#231010"/>
<rect x="1048.9" y="1695" width="3.7" height="24.3" fill="#231010"/>
<rect x="1087.9" y="1695" width="4.0" height="24.3" fill="#231010"/>
<rect x="1154.6" y="1695" width="3.6" height="24.3" fill="#231010"/>
<rect x="1189.2" y="1695" width="4.3" height="24.3" fill="#231010"/>
<rect x="1224.6" y="1695" width="3.7" height="24.3" fill="#231010"/>
<rect x="1118.9" y="1657" width="8.3" height="62.3" fill="#231010"/>
<text x="1020.8" y="1649.6" font-family="Liberation Sans" font-weight="bold" font-style="normal" font-size="40.15" textLength="15.0" lengthAdjust="spacingAndGlyphs" fill="#000">C</text>
<text x="1050.4" y="1649.6" font-family="Liberation Sans" font-weight="bold" font-style="normal" font-size="40.15" textLength="16.0" lengthAdjust="spacingAndGlyphs" fill="#000">D</text>
<text x="1087.5" y="1649.6" font-family="Liberation Sans" font-weight="bold" font-style="normal" font-size="40.15" textLength="16.2" lengthAdjust="spacingAndGlyphs" fill="#000">E</text>
<text x="1123.0" y="1649.6" font-family="Liberation Sans" font-weight="bold" font-style="normal" font-size="40.15" textLength="16.4" lengthAdjust="spacingAndGlyphs" fill="#000">F</text>
<text x="1161.2" y="1649.6" font-family="Liberation Sans" font-weight="bold" font-style="normal" font-size="40.15" textLength="15.7" lengthAdjust="spacingAndGlyphs" fill="#000">G</text>
<text x="1198.9" y="1649.6" font-family="Liberation Sans" font-weight="bold" font-style="normal" font-size="40.15" textLength="14.7" lengthAdjust="spacingAndGlyphs" fill="#000">A</text>
<text x="1235.3" y="1649.6" font-family="Liberation Sans" font-weight="bold" font-style="normal" font-size="40.15" textLength="16.1" lengthAdjust="spacingAndGlyphs" fill="#000">B</text>
<rect x="1267.2" y="1614" width="249.7" height="38.7" fill="#fff"/>
<rect x="1267.2" y="1652.7" width="249.7" height="4.3" fill="#220f0f"/>
<rect x="1267.2" y="1657" width="249.7" height="62.3" fill="#fff"/>
<rect x="1290.9" y="1657" width="23.2" height="38.3" fill="#231010"/>
<rect x="1329.9" y="1657" width="23.0" height="38.3" fill="#231010"/>
<rect x="1396.2" y="1657" width="23.0" height="38.3" fill="#231010"/>
<rect x="1431.2" y="1657" width="23.3" height="38.3" fill="#231010"/>
<rect x="1466.2" y="1657" width="23.3" height="38.3" fill="#231010"/>
<rect x="1302.2" y="1695" width="3.7" height="24.3" fill="#231010"/>
<rect x="1341.2" y="1695" width="4.0" height="24.3" fill="#231010"/>
<rect x="1407.9" y="1695" width="3.6" height="24.3" fill="#231010"/>
<rect x="1442.5" y="1695" width="4.3" height="24.3" fill="#231010"/>
<rect x="1477.9" y="1695" width="3.7" height="24.3" fill="#231010"/>
<rect x="1372.2" y="1657" width="8.3" height="62.3" fill="#231010"/>
<text x="1274.1" y="1649.6" font-family="Liberation Sans" font-weight="bold" font-style="normal" font-size="40.15" textLength="15.0" lengthAdjust="spacingAndGlyphs" fill="#000">C</text>
<text x="1303.7" y="1649.6" font-family="Liberation Sans" font-weight="bold" font-style="normal" font-size="40.15" textLength="16.0" lengthAdjust="spacingAndGlyphs" fill="#000">D</text>
<text x="1340.8" y="1649.6" font-family="Liberation Sans" font-weight="bold" font-style="normal" font-size="40.15" textLength="16.2" lengthAdjust="spacingAndGlyphs" fill="#000">E</text>
<text x="1376.3" y="1649.6" font-family="Liberation Sans" font-weight="bold" font-style="normal" font-size="40.15" textLength="16.4" lengthAdjust="spacingAndGlyphs" fill="#000">F</text>
<text x="1414.5" y="1649.6" font-family="Liberation Sans" font-weight="bold" font-style="normal" font-size="40.15" textLength="15.7" lengthAdjust="spacingAndGlyphs" fill="#000">G</text>
<text x="1452.2" y="1649.6" font-family="Liberation Sans" font-weight="bold" font-style="normal" font-size="40.15" textLength="14.7" lengthAdjust="spacingAndGlyphs" fill="#000">A</text>
<text x="1488.6" y="1649.6" font-family="Liberation Sans" font-weight="bold" font-style="normal" font-size="40.15" textLength="16.1" lengthAdjust="spacingAndGlyphs" fill="#000">B</text>
<rect x="1520.5" y="1614" width="249.7" height="38.7" fill="#fff"/>
<rect x="1520.5" y="1652.7" width="249.7" height="4.3" fill="#220f0f"/>
<rect x="1520.5" y="1657" width="249.7" height="62.3" fill="#fff"/>
<rect x="1544.2" y="1657" width="23.2" height="38.3" fill="#231010"/>
<rect x="1583.2" y="1657" width="23.0" height="38.3" fill="#231010"/>
<rect x="1649.5" y="1657" width="23.0" height="38.3" fill="#231010"/>
<rect x="1684.5" y="1657" width="23.3" height="38.3" fill="#231010"/>
<rect x="1719.5" y="1657" width="23.3" height="38.3" fill="#231010"/>
<rect x="1555.5" y="1695" width="3.7" height="24.3" fill="#231010"/>
<rect x="1594.5" y="1695" width="4.0" height="24.3" fill="#231010"/>
<rect x="1661.2" y="1695" width="3.6" height="24.3" fill="#231010"/>
<rect x="1695.8" y="1695" width="4.3" height="24.3" fill="#231010"/>
<rect x="1731.2" y="1695" width="3.7" height="24.3" fill="#231010"/>
<rect x="1625.5" y="1657" width="8.3" height="62.3" fill="#231010"/>
<text x="1527.4" y="1649.6" font-family="Liberation Sans" font-weight="bold" font-style="normal" font-size="40.15" textLength="15.0" lengthAdjust="spacingAndGlyphs" fill="#000">C</text>
<text x="1557.0" y="1649.6" font-family="Liberation Sans" font-weight="bold" font-style="normal" font-size="40.15" textLength="16.0" lengthAdjust="spacingAndGlyphs" fill="#000">D</text>
<text x="1594.1" y="1649.6" font-family="Liberation Sans" font-weight="bold" font-style="normal" font-size="40.15" textLength="16.2" lengthAdjust="spacingAndGlyphs" fill="#000">E</text>
<text x="1629.6" y="1649.6" font-family="Liberation Sans" font-weight="bold" font-style="normal" font-size="40.15" textLength="16.4" lengthAdjust="spacingAndGlyphs" fill="#000">F</text>
<text x="1667.8" y="1649.6" font-family="Liberation Sans" font-weight="bold" font-style="normal" font-size="40.15" textLength="15.7" lengthAdjust="spacingAndGlyphs" fill="#000">G</text>
<text x="1705.5" y="1649.6" font-family="Liberation Sans" font-weight="bold" font-style="normal" font-size="40.15" textLength="14.7" lengthAdjust="spacingAndGlyphs" fill="#000">A</text>
<text x="1741.9" y="1649.6" font-family="Liberation Sans" font-weight="bold" font-style="normal" font-size="40.15" textLength="16.1" lengthAdjust="spacingAndGlyphs" fill="#000">B</text>
<rect x="1773.8" y="1614" width="249.7" height="38.7" fill="#fff"/>
<rect x="1773.8" y="1652.7" width="249.7" height="4.3" fill="#220f0f"/>
<rect x="1773.8" y="1657" width="249.7" height="62.3" fill="#fff"/>
<rect x="1797.5" y="1657" width="23.2" height="38.3" fill="#231010"/>
<rect x="1836.5" y="1657" width="23.0" height="38.3" fill="#231010"/>
<rect x="1902.8" y="1657" width="23.0" height="38.3" fill="#231010"/>
<rect x="1937.8" y="1657" width="23.3" height="38.3" fill="#231010"/>
<rect x="1972.8" y="1657" width="23.3" height="38.3" fill="#231010"/>
<rect x="1808.8" y="1695" width="3.7" height="24.3" fill="#231010"/>
<rect x="1847.8" y="1695" width="4.0" height="24.3" fill="#231010"/>
<rect x="1914.5" y="1695" width="3.6" height="24.3" fill="#231010"/>
<rect x="1949.1" y="1695" width="4.3" height="24.3" fill="#231010"/>
<rect x="1984.5" y="1695" width="3.7" height="24.3" fill="#231010"/>
<rect x="1878.8" y="1657" width="8.3" height="62.3" fill="#231010"/>
<text x="1780.7" y="1649.6" font-family="Liberation Sans" font-weight="bold" font-style="normal" font-size="40.15" textLength="15.0" lengthAdjust="spacingAndGlyphs" fill="#000">C</text>
<text x="1810.3" y="1649.6" font-family="Liberation Sans" font-weight="bold" font-style="normal" font-size="40.15" textLength="16.0" lengthAdjust="spacingAndGlyphs" fill="#000">D</text>
<text x="1847.4" y="1649.6" font-family="Liberation Sans" font-weight="bold" font-style="normal" font-size="40.15" textLength="16.2" lengthAdjust="spacingAndGlyphs" fill="#000">E</text>
<text x="1882.9" y="1649.6" font-family="Liberation Sans" font-weight="bold" font-style="normal" font-size="40.15" textLength="16.4" lengthAdjust="spacingAndGlyphs" fill="#000">F</text>
<text x="1921.1" y="1649.6" font-family="Liberation Sans" font-weight="bold" font-style="normal" font-size="40.15" textLength="15.7" lengthAdjust="spacingAndGlyphs" fill="#000">G</text>
<text x="1958.8" y="1649.6" font-family="Liberation Sans" font-weight="bold" font-style="normal" font-size="40.15" textLength="14.7" lengthAdjust="spacingAndGlyphs" fill="#000">A</text>
<text x="1995.2" y="1649.6" font-family="Liberation Sans" font-weight="bold" font-style="normal" font-size="40.15" textLength="16.1" lengthAdjust="spacingAndGlyphs" fill="#000">B</text>
<rect x="2027.1" y="1614" width="249.7" height="38.7" fill="#fff"/>
<rect x="2027.1" y="1652.7" width="249.7" height="4.3" fill="#220f0f"/>
<rect x="2027.1" y="1657" width="249.7" height="62.3" fill="#fff"/>
<rect x="2050.8" y="1657" width="23.2" height="38.3" fill="#231010"/>
<rect x="2089.8" y="1657" width="23.0" height="38.3" fill="#231010"/>
<rect x="2156.1" y="1657" width="23.0" height="38.3" fill="#231010"/>
<rect x="2191.1" y="1657" width="23.3" height="38.3" fill="#231010"/>
<rect x="2226.1" y="1657" width="23.3" height="38.3" fill="#231010"/>
<rect x="2062.1" y="1695" width="3.7" height="24.3" fill="#231010"/>
<rect x="2101.1" y="1695" width="4.0" height="24.3" fill="#231010"/>
<rect x="2167.8" y="1695" width="3.6" height="24.3" fill="#231010"/>
<rect x="2202.4" y="1695" width="4.3" height="24.3" fill="#231010"/>
<rect x="2237.8" y="1695" width="3.7" height="24.3" fill="#231010"/>
<rect x="2132.1" y="1657" width="8.3" height="62.3" fill="#231010"/>
<text x="2034.0" y="1649.6" font-family="Liberation Sans" font-weight="bold" font-style="normal" font-size="40.15" textLength="15.0" lengthAdjust="spacingAndGlyphs" fill="#000">C</text>
<text x="2063.6" y="1649.6" font-family="Liberation Sans" font-weight="bold" font-style="normal" font-size="40.15" textLength="16.0" lengthAdjust="spacingAndGlyphs" fill="#000">D</text>
<text x="2100.7" y="1649.6" font-family="Liberation Sans" font-weight="bold" font-style="normal" font-size="40.15" textLength="16.2" lengthAdjust="spacingAndGlyphs" fill="#000">E</text>
<text x="2136.2" y="1649.6" font-family="Liberation Sans" font-weight="bold" font-style="normal" font-size="40.15" textLength="16.4" lengthAdjust="spacingAndGlyphs" fill="#000">F</text>
<text x="2174.4" y="1649.6" font-family="Liberation Sans" font-weight="bold" font-style="normal" font-size="40.15" textLength="15.7" lengthAdjust="spacingAndGlyphs" fill="#000">G</text>
<text x="2212.1" y="1649.6" font-family="Liberation Sans" font-weight="bold" font-style="normal" font-size="40.15" textLength="14.7" lengthAdjust="spacingAndGlyphs" fill="#000">A</text>
<text x="2248.5" y="1649.6" font-family="Liberation Sans" font-weight="bold" font-style="normal" font-size="40.15" textLength="16.1" lengthAdjust="spacingAndGlyphs" fill="#000">B</text>
<rect x="2280.4" y="1614" width="249.7" height="38.7" fill="#fff"/>
<rect x="2280.4" y="1652.7" width="249.7" height="4.3" fill="#220f0f"/>
<rect x="2280.4" y="1657" width="249.7" height="62.3" fill="#fff"/>
<rect x="2304.1" y="1657" width="23.2" height="38.3" fill="#231010"/>
<rect x="2343.1" y="1657" width="23.0" height="38.3" fill="#231010"/>
<rect x="2409.4" y="1657" width="23.0" height="38.3" fill="#231010"/>
<rect x="2444.4" y="1657" width="23.3" height="38.3" fill="#231010"/>
<rect x="2479.4" y="1657" width="23.3" height="38.3" fill="#231010"/>
<rect x="2315.4" y="1695" width="3.7" height="24.3" fill="#231010"/>
<rect x="2354.4" y="1695" width="4.0" height="24.3" fill="#231010"/>
<rect x="2421.1" y="1695" width="3.6" height="24.3" fill="#231010"/>
<rect x="2455.7" y="1695" width="4.3" height="24.3" fill="#231010"/>
<rect x="2491.1" y="1695" width="3.7" height="24.3" fill="#231010"/>
<rect x="2385.4" y="1657" width="8.3" height="62.3" fill="#231010"/>
<text x="2287.3" y="1649.6" font-family="Liberation Sans" font-weight="bold" font-style="normal" font-size="40.15" textLength="15.0" lengthAdjust="spacingAndGlyphs" fill="#000">C</text>
<text x="2316.9" y="1649.6" font-family="Liberation Sans" font-weight="bold" font-style="normal" font-size="40.15" textLength="16.0" lengthAdjust="spacingAndGlyphs" fill="#000">D</text>
<text x="2354.0" y="1649.6" font-family="Liberation Sans" font-weight="bold" font-style="normal" font-size="40.15" textLength="16.2" lengthAdjust="spacingAndGlyphs" fill="#000">E</text>
<text x="2389.5" y="1649.6" font-family="Liberation Sans" font-weight="bold" font-style="normal" font-size="40.15" textLength="16.4" lengthAdjust="spacingAndGlyphs" fill="#000">F</text>
<text x="2427.7" y="1649.6" font-family="Liberation Sans" font-weight="bold" font-style="normal" font-size="40.15" textLength="15.7" lengthAdjust="spacingAndGlyphs" fill="#000">G</text>
<text x="2465.4" y="1649.6" font-family="Liberation Sans" font-weight="bold" font-style="normal" font-size="40.15" textLength="14.7" lengthAdjust="spacingAndGlyphs" fill="#000">A</text>
<text x="2501.8" y="1649.6" font-family="Liberation Sans" font-weight="bold" font-style="normal" font-size="40.15" textLength="16.1" lengthAdjust="spacingAndGlyphs" fill="#000">B</text>
<rect x="2533.7" y="1614" width="249.7" height="38.7" fill="#fff"/>
<rect x="2533.7" y="1652.7" width="249.7" height="4.3" fill="#220f0f"/>
<rect x="2533.7" y="1657" width="249.7" height="62.3" fill="#fff"/>
<rect x="2557.4" y="1657" width="23.2" height="38.3" fill="#231010"/>
<rect x="2596.4" y="1657" width="23.0" height="38.3" fill="#231010"/>
<rect x="2662.7" y="1657" width="23.0" height="38.3" fill="#231010"/>
<rect x="2697.7" y="1657" width="23.3" height="38.3" fill="#231010"/>
<rect x="2732.7" y="1657" width="23.3" height="38.3" fill="#231010"/>
<rect x="2568.7" y="1695" width="3.7" height="24.3" fill="#231010"/>
<rect x="2607.7" y="1695" width="4.0" height="24.3" fill="#231010"/>
<rect x="2674.4" y="1695" width="3.6" height="24.3" fill="#231010"/>
<rect x="2709.0" y="1695" width="4.3" height="24.3" fill="#231010"/>
<rect x="2744.4" y="1695" width="3.7" height="24.3" fill="#231010"/>
<rect x="2638.7" y="1657" width="8.3" height="62.3" fill="#231010"/>
<text x="2540.6" y="1649.6" font-family="Liberation Sans" font-weight="bold" font-style="normal" font-size="40.15" textLength="15.0" lengthAdjust="spacingAndGlyphs" fill="#000">C</text>
<text x="2570.2" y="1649.6" font-family="Liberation Sans" font-weight="bold" font-style="normal" font-size="40.15" textLength="16.0" lengthAdjust="spacingAndGlyphs" fill="#000">D</text>
<text x="2607.3" y="1649.6" font-family="Liberation Sans" font-weight="bold" font-style="normal" font-size="40.15" textLength="16.2" lengthAdjust="spacingAndGlyphs" fill="#000">E</text>
<text x="2642.8" y="1649.6" font-family="Liberation Sans" font-weight="bold" font-style="normal" font-size="40.15" textLength="16.4" lengthAdjust="spacingAndGlyphs" fill="#000">F</text>
<text x="2681.0" y="1649.6" font-family="Liberation Sans" font-weight="bold" font-style="normal" font-size="40.15" textLength="15.7" lengthAdjust="spacingAndGlyphs" fill="#000">G</text>
<text x="2718.7" y="1649.6" font-family="Liberation Sans" font-weight="bold" font-style="normal" font-size="40.15" textLength="14.7" lengthAdjust="spacingAndGlyphs" fill="#000">A</text>
<text x="2755.1" y="1649.6" font-family="Liberation Sans" font-weight="bold" font-style="normal" font-size="40.15" textLength="16.1" lengthAdjust="spacingAndGlyphs" fill="#000">B</text>
<circle cx="367.7" cy="1584.9" r="29.3" fill="#fff" stroke="#000" stroke-width="3.4"/>
<text x="353.5" y="1602.4" font-family="Liberation Serif" font-weight="bold" font-style="normal" font-size="51.73" textLength="36.5" lengthAdjust="spacingAndGlyphs" fill="#000">0</text>
<circle cx="621.0" cy="1584.9" r="29.3" fill="#fff" stroke="#000" stroke-width="3.4"/>
<text x="602.8" y="1602.4" font-family="Liberation Serif" font-weight="bold" font-style="normal" font-size="52.12" textLength="42.2" lengthAdjust="spacingAndGlyphs" fill="#000">1</text>
<circle cx="874.3" cy="1584.9" r="29.3" fill="#fff" stroke="#000" stroke-width="3.4"/>
<text x="859.6" y="1602.4" font-family="Liberation Serif" font-weight="bold" font-style="normal" font-size="51.92" textLength="37.3" lengthAdjust="spacingAndGlyphs" fill="#000">2</text>
<circle cx="1127.6" cy="1584.9" r="29.3" fill="#fff" stroke="#000" stroke-width="3.4"/>
<text x="1113.4" y="1602.4" font-family="Liberation Serif" font-weight="bold" font-style="normal" font-size="51.92" textLength="36.3" lengthAdjust="spacingAndGlyphs" fill="#000">3</text>
<circle cx="1380.9" cy="1584.9" r="29.3" fill="#fff" stroke="#000" stroke-width="3.4"/>
<text x="1368.6" y="1602.4" font-family="Liberation Serif" font-weight="bold" font-style="normal" font-size="52.32" textLength="33.0" lengthAdjust="spacingAndGlyphs" fill="#000">4</text>
<circle cx="1634.2" cy="1584.9" r="29.3" fill="#fff" stroke="#000" stroke-width="3.4"/>
<text x="1619.8" y="1602.4" font-family="Liberation Serif" font-weight="bold" font-style="normal" font-size="52.52" textLength="36.7" lengthAdjust="spacingAndGlyphs" fill="#000">5</text>
<circle cx="1887.5" cy="1584.9" r="29.3" fill="#fff" stroke="#000" stroke-width="3.4"/>
<text x="1873.5" y="1602.4" font-family="Liberation Serif" font-weight="bold" font-style="normal" font-size="51.92" textLength="35.6" lengthAdjust="spacingAndGlyphs" fill="#000">6</text>
<circle cx="2140.8" cy="1584.9" r="29.3" fill="#fff" stroke="#000" stroke-width="3.4"/>
<text x="2125.0" y="1602.4" font-family="Liberation Serif" font-weight="bold" font-style="normal" font-size="52.52" textLength="37.1" lengthAdjust="spacingAndGlyphs" fill="#000">7</text>
<circle cx="2394.1" cy="1584.9" r="29.3" fill="#fff" stroke="#000" stroke-width="3.4"/>
<text x="2380.3" y="1602.4" font-family="Liberation Serif" font-weight="bold" font-style="normal" font-size="51.73" textLength="35.6" lengthAdjust="spacingAndGlyphs" fill="#000">8</text>
<circle cx="2647.4" cy="1584.9" r="29.3" fill="#fff" stroke="#000" stroke-width="3.4"/>
<text x="2634.0" y="1602.4" font-family="Liberation Serif" font-weight="bold" font-style="normal" font-size="51.92" textLength="35.4" lengthAdjust="spacingAndGlyphs" fill="#000">9</text>
<line x1="1282.9" y1="1730.8" x2="1282.9" y2="1771.4" stroke="#2aa6ea" stroke-width="7" stroke-linecap="round"/>
<line x1="1459.5" y1="1730.8" x2="1459.5" y2="1771.4" stroke="#2aa6ea" stroke-width="7" stroke-linecap="round"/>
<line x1="433" y1="1771.4" x2="586" y2="1771.4" stroke="#2aa6ea" stroke-width="6.5" stroke-linecap="round"/>
<line x1="327.8" y1="1890.5" x2="570.3" y2="1890.5" stroke="#2aa6ea" stroke-width="6.5" stroke-linecap="round"/>
<line x1="806.8" y1="1890.5" x2="957" y2="1890.5" stroke="#2aa6ea" stroke-width="6.5" stroke-linecap="round"/>
<line x1="691" y1="2016.2" x2="829.4" y2="2016.2" stroke="#2aa6ea" stroke-width="6.5" stroke-linecap="round"/>
<line x1="912.5" y1="2134.3" x2="1133.7" y2="2134.3" stroke="#2aa6ea" stroke-width="6.5" stroke-linecap="round"/>
<line x1="1698.2" y1="1771.4" x2="1967.5" y2="1771.4" stroke="#2aa6ea" stroke-width="6.5" stroke-linecap="round"/>
<line x1="1062.5" y1="1890.5" x2="1236.5" y2="1890.5" stroke="#2aa6ea" stroke-width="6.5" stroke-linecap="round"/>
<line x1="1474.4" y1="1890.5" x2="1761.8" y2="1890.5" stroke="#2aa6ea" stroke-width="6.5" stroke-linecap="round"/>
<line x1="1236.3" y1="2016.2" x2="1478" y2="2016.2" stroke="#2aa6ea" stroke-width="6.5" stroke-linecap="round"/>
<line x1="1770" y1="2016.2" x2="2011.3" y2="2016.2" stroke="#2aa6ea" stroke-width="6.5" stroke-linecap="round"/>
<line x1="2285.4" y1="1771.4" x2="2573.2" y2="1771.4" stroke="#2aa6ea" stroke-width="6.5" stroke-linecap="round"/>
<line x1="2699.2" y1="1771.4" x2="2820.8" y2="1771.4" stroke="#2aa6ea" stroke-width="6.5" stroke-linecap="round"/>
<line x1="2034.9" y1="1882.4" x2="2243.2" y2="1882.4" stroke="#2aa6ea" stroke-width="6.5" stroke-linecap="round"/>
<line x1="2386.3" y1="1882.4" x2="2621.8" y2="1882.4" stroke="#2aa6ea" stroke-width="6.5" stroke-linecap="round"/>
<line x1="2237.8" y1="2016.2" x2="2389.9" y2="2016.2" stroke="#2aa6ea" stroke-width="6.5" stroke-linecap="round"/>
<line x1="2541" y1="2016.2" x2="2699.4" y2="2016.2" stroke="#2aa6ea" stroke-width="6.5" stroke-linecap="round"/>
<line x1="2027.8" y1="2134.3" x2="2812.7" y2="2134.3" stroke="#2aa6ea" stroke-width="6.5" stroke-linecap="round"/>
<text x="418.9" y="1822.9" font-family="Liberation Sans" font-weight="normal" font-style="italic" font-size="54.11" textLength="185.4" lengthAdjust="spacingAndGlyphs" fill="#fff" filter="url(#ts)">Rumble</text>
<text x="1093.4" y="1822.9" font-family="Liberation Sans" font-weight="normal" font-style="italic" font-size="54.11" textLength="234.8" lengthAdjust="spacingAndGlyphs" fill="#fff" filter="url(#ts)">Middle C</text>
<text x="1409.8" y="1822.9" font-family="Liberation Sans" font-weight="normal" font-style="italic" font-size="54.11" textLength="155.9" lengthAdjust="spacingAndGlyphs" fill="#fff" filter="url(#ts)">A-440</text>
<text x="1748.8" y="1822.9" font-family="Liberation Sans" font-weight="normal" font-style="italic" font-size="54.11" textLength="175.2" lengthAdjust="spacingAndGlyphs" fill="#fff" filter="url(#ts)">Whack</text>
<text x="2318.4" y="1822.9" font-family="Liberation Sans" font-weight="normal" font-style="italic" font-size="54.11" textLength="230.3" lengthAdjust="spacingAndGlyphs" fill="#fff" filter="url(#ts)">Sibilance</text>
<text x="2711.2" y="1822.9" font-family="Liberation Sans" font-weight="normal" font-style="italic" font-size="54.11" textLength="66.4" lengthAdjust="spacingAndGlyphs" fill="#fff" filter="url(#ts)">Air</text>
<text x="325.5" y="1940.5" font-family="Liberation Sans" font-weight="normal" font-style="italic" font-size="55.42" textLength="339.5" lengthAdjust="spacingAndGlyphs" fill="#fff" filter="url(#ts)">Chest/Thump</text>
<text x="819.7" y="1940.5" font-family="Liberation Sans" font-weight="normal" font-style="italic" font-size="55.42" textLength="175.7" lengthAdjust="spacingAndGlyphs" fill="#fff" filter="url(#ts)">Bottom</text>
<text x="1073.5" y="1940.5" font-family="Liberation Sans" font-weight="normal" font-style="italic" font-size="55.42" textLength="204.1" lengthAdjust="spacingAndGlyphs" fill="#fff" filter="url(#ts)">Warmth</text>
<text x="1554.5" y="1940.5" font-family="Liberation Sans" font-weight="normal" font-style="italic" font-size="55.42" textLength="131.3" lengthAdjust="spacingAndGlyphs" fill="#fff" filter="url(#ts)">Honk</text>
<text x="2061.2" y="1940.5" font-family="Liberation Sans" font-weight="normal" font-style="italic" font-size="55.42" textLength="181.9" lengthAdjust="spacingAndGlyphs" fill="#fff" filter="url(#ts)">Crunch</text>
<text x="2422.0" y="1940.5" font-family="Liberation Sans" font-weight="normal" font-style="italic" font-size="55.42" textLength="245.9" lengthAdjust="spacingAndGlyphs" fill="#fff" filter="url(#ts)">Definition</text>
<text x="630.4" y="2070.5" font-family="Liberation Sans" font-weight="normal" font-style="italic" font-size="54.11" textLength="292.8" lengthAdjust="spacingAndGlyphs" fill="#fff" filter="url(#ts)">AC/Ground</text>
<text x="1209.3" y="2070.5" font-family="Liberation Sans" font-weight="normal" font-style="italic" font-size="54.11" textLength="336.9" lengthAdjust="spacingAndGlyphs" fill="#fff" filter="url(#ts)">Fullness/Mud</text>
<text x="1809.3" y="2070.5" font-family="Liberation Sans" font-weight="normal" font-style="italic" font-size="54.11" textLength="134.6" lengthAdjust="spacingAndGlyphs" fill="#fff" filter="url(#ts)">Tinny</text>
<text x="2238.9" y="2070.5" font-family="Liberation Sans" font-weight="normal" font-style="italic" font-size="54.11" textLength="127.4" lengthAdjust="spacingAndGlyphs" fill="#fff" filter="url(#ts)">Edge</text>
<text x="2533.2" y="2070.5" font-family="Liberation Sans" font-weight="normal" font-style="italic" font-size="54.11" textLength="153.1" lengthAdjust="spacingAndGlyphs" fill="#fff" filter="url(#ts)">Pierce</text>
<text x="878.3" y="2188.0" font-family="Liberation Sans" font-weight="normal" font-style="italic" font-size="55.27" textLength="321.9" lengthAdjust="spacingAndGlyphs" fill="#fff" filter="url(#ts)">Boom/Punch</text>
<text x="2338.8" y="2188.0" font-family="Liberation Sans" font-weight="normal" font-style="italic" font-size="55.27" textLength="153.7" lengthAdjust="spacingAndGlyphs" fill="#fff" filter="url(#ts)">Treble</text>
<text x="336.5" y="2349.9" font-family="Liberation Sans" font-weight="bold" font-style="normal" font-size="71.85" textLength="252.3" lengthAdjust="spacingAndGlyphs" fill="#fff" filter="url(#ts)" stroke="#fff" stroke-width="5" stroke-linejoin="round">Sub Bass</text>
<text x="846.3" y="2349.9" font-family="Liberation Sans" font-weight="bold" font-style="normal" font-size="71.85" textLength="136.0" lengthAdjust="spacingAndGlyphs" fill="#fff" filter="url(#ts)" stroke="#fff" stroke-width="5" stroke-linejoin="round">Bass</text>
<text x="1425.5" y="2349.9" font-family="Liberation Sans" font-weight="bold" font-style="normal" font-size="71.85" textLength="265.9" lengthAdjust="spacingAndGlyphs" fill="#fff" filter="url(#ts)" stroke="#fff" stroke-width="5" stroke-linejoin="round">Midrange</text>
<text x="2053.4" y="2349.9" font-family="Liberation Sans" font-weight="bold" font-style="normal" font-size="71.85" textLength="275.0" lengthAdjust="spacingAndGlyphs" fill="#fff" filter="url(#ts)" stroke="#fff" stroke-width="5" stroke-linejoin="round">High Mids</text>
<text x="2472.5" y="2349.9" font-family="Liberation Sans" font-weight="bold" font-style="normal" font-size="71.85" textLength="294.0" lengthAdjust="spacingAndGlyphs" fill="#fff" filter="url(#ts)" stroke="#fff" stroke-width="5" stroke-linejoin="round">High Freqs</text>
<text x="231.7" y="83.0" font-family="Liberation Sans" font-weight="bold" font-style="normal" font-size="48.75" textLength="36.0" lengthAdjust="spacingAndGlyphs" fill="#fff" filter="url(#ts)">20</text>
<text x="231.7" y="2433.0" font-family="Liberation Sans" font-weight="bold" font-style="normal" font-size="48.75" textLength="36.0" lengthAdjust="spacingAndGlyphs" fill="#fff" filter="url(#ts)">20</text>
<text x="492.4" y="83.0" font-family="Liberation Sans" font-weight="bold" font-style="normal" font-size="48.75" textLength="36.6" lengthAdjust="spacingAndGlyphs" fill="#fff" filter="url(#ts)">40</text>
<text x="492.4" y="2433.0" font-family="Liberation Sans" font-weight="bold" font-style="normal" font-size="48.75" textLength="36.6" lengthAdjust="spacingAndGlyphs" fill="#fff" filter="url(#ts)">40</text>
<text x="639.3" y="83.0" font-family="Liberation Sans" font-weight="bold" font-style="normal" font-size="48.75" textLength="37.0" lengthAdjust="spacingAndGlyphs" fill="#fff" filter="url(#ts)">60</text>
<text x="639.3" y="2433.0" font-family="Liberation Sans" font-weight="bold" font-style="normal" font-size="48.75" textLength="37.0" lengthAdjust="spacingAndGlyphs" fill="#fff" filter="url(#ts)">60</text>
<text x="870.9" y="83.0" font-family="Liberation Sans" font-weight="bold" font-style="normal" font-size="48.75" textLength="54.3" lengthAdjust="spacingAndGlyphs" fill="#fff" filter="url(#ts)">100</text>
<text x="870.9" y="2433.0" font-family="Liberation Sans" font-weight="bold" font-style="normal" font-size="48.75" textLength="54.3" lengthAdjust="spacingAndGlyphs" fill="#fff" filter="url(#ts)">100</text>
<text x="1076.5" y="83.0" font-family="Liberation Sans" font-weight="bold" font-style="normal" font-size="48.75" textLength="54.4" lengthAdjust="spacingAndGlyphs" fill="#fff" filter="url(#ts)">200</text>
<text x="1076.5" y="2433.0" font-family="Liberation Sans" font-weight="bold" font-style="normal" font-size="48.75" textLength="54.4" lengthAdjust="spacingAndGlyphs" fill="#fff" filter="url(#ts)">200</text>
<text x="1392.8" y="83.0" font-family="Liberation Sans" font-weight="bold" font-style="normal" font-size="48.75" textLength="54.7" lengthAdjust="spacingAndGlyphs" fill="#fff" filter="url(#ts)">400</text>
<text x="1392.8" y="2433.0" font-family="Liberation Sans" font-weight="bold" font-style="normal" font-size="48.75" textLength="54.7" lengthAdjust="spacingAndGlyphs" fill="#fff" filter="url(#ts)">400</text>
<text x="1543.1" y="83.0" font-family="Liberation Sans" font-weight="bold" font-style="normal" font-size="48.75" textLength="54.5" lengthAdjust="spacingAndGlyphs" fill="#fff" filter="url(#ts)">600</text>
<text x="1543.1" y="2433.0" font-family="Liberation Sans" font-weight="bold" font-style="normal" font-size="48.75" textLength="54.5" lengthAdjust="spacingAndGlyphs" fill="#fff" filter="url(#ts)">600</text>
<text x="1770.5" y="83.0" font-family="Liberation Sans" font-weight="bold" font-style="normal" font-size="48.75" textLength="39.4" lengthAdjust="spacingAndGlyphs" fill="#fff" filter="url(#ts)">1K</text>
<text x="1770.5" y="2433.0" font-family="Liberation Sans" font-weight="bold" font-style="normal" font-size="48.75" textLength="39.4" lengthAdjust="spacingAndGlyphs" fill="#fff" filter="url(#ts)">1K</text>
<text x="1947.5" y="83.0" font-family="Liberation Sans" font-weight="bold" font-style="normal" font-size="48.75" textLength="38.5" lengthAdjust="spacingAndGlyphs" fill="#fff" filter="url(#ts)">2K</text>
<text x="1947.5" y="2433.0" font-family="Liberation Sans" font-weight="bold" font-style="normal" font-size="48.75" textLength="38.5" lengthAdjust="spacingAndGlyphs" fill="#fff" filter="url(#ts)">2K</text>
<text x="2227.1" y="83.0" font-family="Liberation Sans" font-weight="bold" font-style="normal" font-size="48.75" textLength="39.9" lengthAdjust="spacingAndGlyphs" fill="#fff" filter="url(#ts)">4K</text>
<text x="2227.1" y="2433.0" font-family="Liberation Sans" font-weight="bold" font-style="normal" font-size="48.75" textLength="39.9" lengthAdjust="spacingAndGlyphs" fill="#fff" filter="url(#ts)">4K</text>
<text x="2374.0" y="83.0" font-family="Liberation Sans" font-weight="bold" font-style="normal" font-size="48.75" textLength="40.6" lengthAdjust="spacingAndGlyphs" fill="#fff" filter="url(#ts)">6K</text>
<text x="2374.0" y="2433.0" font-family="Liberation Sans" font-weight="bold" font-style="normal" font-size="48.75" textLength="40.6" lengthAdjust="spacingAndGlyphs" fill="#fff" filter="url(#ts)">6K</text>
<text x="2557.5" y="83.0" font-family="Liberation Sans" font-weight="bold" font-style="normal" font-size="48.75" textLength="58.0" lengthAdjust="spacingAndGlyphs" fill="#fff" filter="url(#ts)">10K</text>
<text x="2557.5" y="2433.0" font-family="Liberation Sans" font-weight="bold" font-style="normal" font-size="48.75" textLength="58.0" lengthAdjust="spacingAndGlyphs" fill="#fff" filter="url(#ts)">10K</text>
<text x="2755.1" y="83.0" font-family="Liberation Sans" font-weight="bold" font-style="normal" font-size="48.75" textLength="58.5" lengthAdjust="spacingAndGlyphs" fill="#fff" filter="url(#ts)">16K</text>
<text x="2755.1" y="2433.0" font-family="Liberation Sans" font-weight="bold" font-style="normal" font-size="48.75" textLength="58.5" lengthAdjust="spacingAndGlyphs" fill="#fff" filter="url(#ts)">16K</text>
<text x="2852.9" y="83.0" font-family="Liberation Sans" font-weight="bold" font-style="normal" font-size="48.75" textLength="57.4" lengthAdjust="spacingAndGlyphs" fill="#fff" filter="url(#ts)">20K</text>
<text x="2852.9" y="2433.0" font-family="Liberation Sans" font-weight="bold" font-style="normal" font-size="48.75" textLength="57.4" lengthAdjust="spacingAndGlyphs" fill="#fff" filter="url(#ts)">20K</text>
<text x="30.7" y="82.3" font-family="Liberation Sans" font-weight="bold" font-style="normal" font-size="79.56" textLength="58.2" lengthAdjust="spacingAndGlyphs" fill="#fff" filter="url(#ts)">Hz</text>
<text x="30.0" y="2432.4" font-family="Liberation Sans" font-weight="bold" font-style="normal" font-size="79.71" textLength="59.7" lengthAdjust="spacingAndGlyphs" fill="#fff" filter="url(#ts)">Hz</text>
</svg></body></html>
